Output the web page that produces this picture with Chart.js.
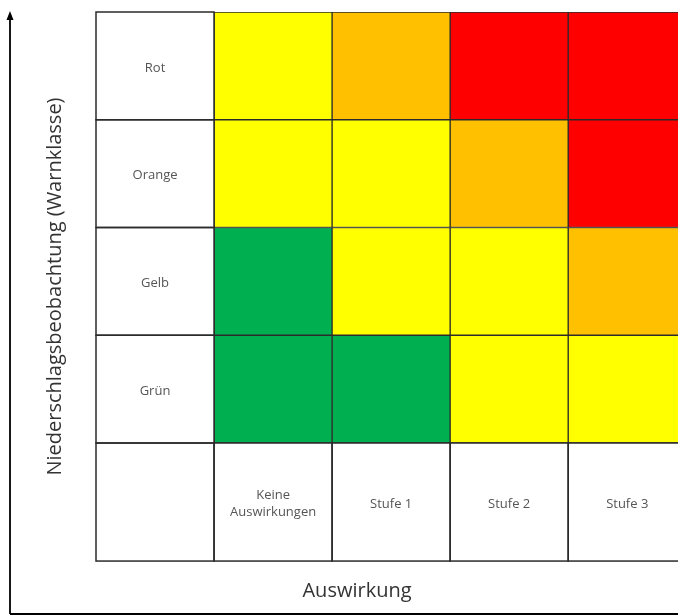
<!DOCTYPE html>
<html>
<head>
<meta charset="utf-8">
<script src="https://cdn.jsdelivr.net/npm/chart.js@4"></script>
<style>
  html, body { margin: 0; padding: 0; background: #fff; overflow: hidden; }
</style>
</head>
<body>
<canvas id="matrix" width="678" height="616"></canvas>
<script>
// Auswirkung (Spalten) und Warnklasse (Zeilen, von unten nach oben)
const wirkung = ["Keine\nAuswirkungen", "Stufe 1", "Stufe 2", "Stufe 3"];
const warnklasse = ["Grün", "Gelb", "Orange", "Rot"];

// resultierende Warnstufe je Zeile
const zeileGruen = ["Grün", "Grün", "Gelb", "Gelb"];
const zeileGelb = ["Grün", "Gelb", "Gelb", "Orange"];
const zeileOrange = ["Gelb", "Gelb", "Orange", "Rot"];
const zeileRot = ["Gelb", "Orange", "Rot", "Rot"];

const titelX = "Auswirkung";
const titelY = "Niederschlagsbeobachtung (Warnklasse)";

const farben = { "Grün": "#00B050", "Gelb": "#FFFF00", "Orange": "#FFC000", "Rot": "#FF0000" };
const zeilen = [zeileGruen, zeileGelb, zeileOrange, zeileRot];

const datasets = zeilen.map((zeile, r) => ({
  label: warnklasse[r],
  data: zeile.map((_, i) => ({ x: i, y: [r, r + 1] })),
  backgroundColor: zeile.map(k => farben[k]),
  borderColor: "#2b2b2b",
  borderWidth: 1,
  borderSkipped: false,
  barPercentage: 1,
  categoryPercentage: 1,
  grouped: false
}));

const FONT = "'Open Sans', sans-serif";

// Beschriftungsspalte, Beschriftungszeile, Achsenpfeile und Titel
const rahmen = {
  id: "rahmen",
  afterDatasetsDraw(chart) {
    const { ctx, chartArea: a, scales: { x, y } } = chart;
    const w = x.getPixelForValue(0.5) - x.getPixelForValue(-0.5);
    ctx.save();
    ctx.strokeStyle = "#2b2b2b";
    ctx.lineWidth = 1.5;
    ctx.fillStyle = "#555";
    ctx.font = "13px " + FONT;
    ctx.textAlign = "center";
    ctx.textBaseline = "middle";

    const xl = x.getPixelForValue(-1.5), xr = x.getPixelForValue(-0.5);
    warnklasse.forEach((k, r) => {
      const yt = y.getPixelForValue(r + 1), yb = y.getPixelForValue(r);
      ctx.strokeRect(xl, yt, xr - xl, yb - yt);
      ctx.fillText(k, (xl + xr) / 2, (yt + yb) / 2 + 2);
    });

    const yt = a.bottom, yb = a.bottom + w;
    for (let i = -1; i < wirkung.length; i++) {
      const l = x.getPixelForValue(i - 0.5), rr = x.getPixelForValue(i + 0.5);
      ctx.strokeRect(l, yt, rr - l, yb - yt);
      if (i < 0) continue;
      const teile = wirkung[i].split("\n");
      teile.forEach((t, j) => {
        ctx.fillText(t, (l + rr) / 2, (yt + yb) / 2 + 2 + (j - (teile.length - 1) / 2) * 17);
      });
    }

    // Achsen mit Pfeil
    ctx.strokeStyle = "#000";
    ctx.fillStyle = "#000";
    ctx.lineWidth = 1.8;
    ctx.beginPath();
    ctx.moveTo(10, 614);
    ctx.lineTo(10, 18);
    ctx.moveTo(10, 614);
    ctx.lineTo(678, 614);
    ctx.stroke();
    ctx.beginPath();
    ctx.moveTo(10, 11);
    ctx.lineTo(6.5, 20);
    ctx.lineTo(13.5, 20);
    ctx.closePath();
    ctx.fill();

    // Achsentitel
    ctx.fillStyle = "#333";
    ctx.font = "20px " + FONT;
    ctx.fillText(titelX, 357, 591);
    ctx.translate(55, (a.top + yb) / 2);
    ctx.rotate(-Math.PI / 2);
    ctx.fillText(titelY, 0, 0);
    ctx.restore();
  }
};

new Chart(document.getElementById("matrix").getContext("2d"), {
  type: "bar",
  data: { datasets },
  plugins: [rahmen],
  options: {
    responsive: false,
    animation: false,
    layout: { padding: { left: 96, top: 12, right: 0, bottom: 173 } },
    plugins: {
      legend: { display: false },
      tooltip: { enabled: false },
      title: { display: false }
    },
    scales: {
      x: {
        type: "linear", min: -1.5, max: 3.43, display: false, offset: false,
        // nur ganze Spaltenmitten als Ticks, damit die Balken volle Breite bekommen
        afterBuildTicks: s => { s.ticks = [-1, 0, 1, 2, 3].map(v => ({ value: v })); }
      },
      y: { type: "linear", min: 0, max: 4, display: false }
    }
  }
});
</script>
</body>
</html>
